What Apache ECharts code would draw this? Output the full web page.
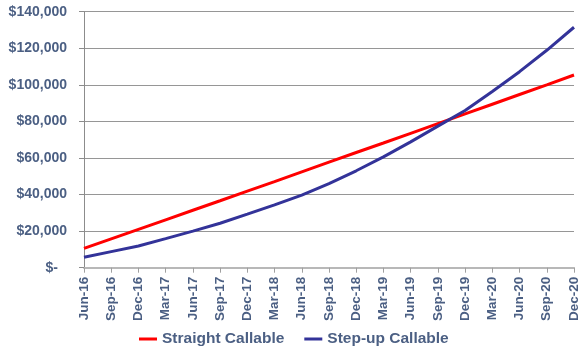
<!DOCTYPE html>
<html>
<head>
<meta charset="utf-8">
<script src="https://cdn.jsdelivr.net/npm/echarts@6/dist/echarts.min.js"></script>
<style>
  html, body { margin: 0; padding: 0; background: #fff; }
  #chart { width: 581px; height: 351px; }
</style>
</head>
<body>
<div id="chart"></div>
<script>
// Quarter-end dates on the category axis
const quarters = [
  'Jun-16', 'Sep-16', 'Dec-16', 'Mar-17', 'Jun-17', 'Sep-17', 'Dec-17',
  'Mar-18', 'Jun-18', 'Sep-18', 'Dec-18', 'Mar-19', 'Jun-19', 'Sep-19',
  'Dec-19', 'Mar-20', 'Jun-20', 'Sep-20', 'Dec-20'
];

// Cumulative value of each note, in dollars
const straightCallable = [
  10600, 15800, 21000, 26200, 31400, 36600, 41900, 47100, 52400, 57700,
  63000, 68200, 73500, 78800, 84100, 89400, 94700, 100000, 105400
];
const stepUpCallable = [
  5700, 8800, 11900, 15900, 20000, 24300, 29300, 34400, 39700, 46000,
  53000, 60600, 68800, 77400, 86000, 96400, 107200, 118900, 131500
];

const seriesNames = ['Straight Callable', 'Step-up Callable'];
const seriesColors = ['#ff0000', '#333399'];

const labelColor = '#4b5f83';
const fontFamily = '"Liberation Sans", Arial, sans-serif';

function dollars(v) {
  if (v === 0) return '{dash|$-}';
  return '$' + v.toString().replace(/\B(?=(\d{3})+(?!\d))/g, ',');
}

const chart = echarts.init(document.getElementById('chart'), null, { renderer: 'canvas' });

chart.setOption({
  animation: false,
  backgroundColor: '#ffffff',
  grid: { left: 84, right: 7, top: 11.7, bottom: 83.3, containLabel: false },
  legend: {
    data: seriesNames,
    left: 139,
    top: 331,
    padding: 0,
    icon: 'rect',
    itemWidth: 18,
    itemHeight: 3,
    itemGap: 20,
    textStyle: { color: labelColor, fontSize: 15.5, fontWeight: 'bold', fontFamily: fontFamily }
  },
  xAxis: {
    type: 'category',
    data: quarters,
    boundaryGap: false,
    axisLine: { lineStyle: { color: '#b8b8b8', width: 2 } },
    axisTick: { show: true, length: 5, lineStyle: { color: '#a0a0a0' } },
    axisLabel: {
      rotate: 90,
      interval: 0,
      margin: 9,
      color: labelColor,
      fontSize: 13.5,
      fontWeight: 'bold',
      fontFamily: fontFamily
    },
    splitLine: { show: false }
  },
  yAxis: {
    type: 'value',
    min: 0,
    max: 140000,
    interval: 20000,
    axisLine: { show: true, lineStyle: { color: '#8c8c8c', width: 1 } },
    axisTick: { show: true, length: 5, lineStyle: { color: '#8c8c8c' } },
    axisLabel: {
      margin: 17,
      color: labelColor,
      fontSize: 14,
      fontWeight: 'bold',
      fontFamily: fontFamily,
      formatter: dollars,
      rich: {
        dash: { color: labelColor, fontSize: 14, fontWeight: 'bold', fontFamily: fontFamily, padding: [0, 9, 0, 0] }
      }
    },
    splitLine: { show: true, lineStyle: { color: '#969696', width: 1 } }
  },
  series: [
    {
      name: seriesNames[0],
      type: 'line',
      data: straightCallable,
      showSymbol: false,
      symbol: 'none',
      color: seriesColors[0],
      lineStyle: { color: seriesColors[0], width: 3 },
      z: 3
    },
    {
      name: seriesNames[1],
      type: 'line',
      data: stepUpCallable,
      showSymbol: false,
      symbol: 'none',
      color: seriesColors[1],
      lineStyle: { color: seriesColors[1], width: 3 },
      z: 4
    }
  ]
});
</script>
</body>
</html>
